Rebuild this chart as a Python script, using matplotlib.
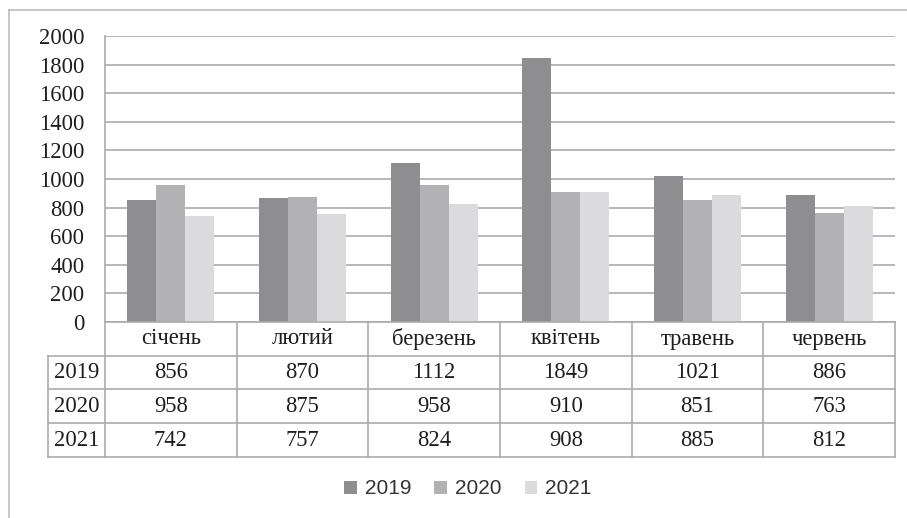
import matplotlib
matplotlib.use("Agg")
import matplotlib.pyplot as plt
from matplotlib.lines import Line2D
from matplotlib.patches import Patch
import numpy as np

months = ["січень", "лютий", "березень", "квітень", "травень", "червень"]
years = ["2019", "2020", "2021"]
v2019 = [856, 870, 1112, 1849, 1021, 886]
v2020 = [958, 875, 958, 910, 851, 763]
v2021 = [742, 757, 824, 908, 885, 812]
series = [v2019, v2020, v2021]
colors = ["#8e8e91", "#b2b2b5", "#dbdbdd"]
yticks = [0, 200, 400, 600, 800, 1000, 1200, 1400, 1600, 1800, 2000]

W, H = 907, 518
fig = plt.figure(figsize=(W / 100, H / 100), dpi=100)
fig.patch.set_facecolor("white")

def fx(px):
    return px / W

def fy(py):
    return 1 - py / H

left, right, top, bottom = 105, 895, 36, 322
ax = fig.add_axes([fx(left), fy(bottom), fx(right) - fx(left), fy(top) - fy(bottom)])

grid_c = "#ababab"
serif = "Liberation Serif"
fs = 16.3
tc = "#1e1e1e"

n = len(months)
x = np.arange(n)
bw = 0.22
for i, (vals, c) in enumerate(zip(series, colors)):
    ax.bar(x + (i - 1) * bw, vals, width=bw, color=c, zorder=3, linewidth=0)

ax.set_xlim(-0.5, n - 0.5)
ax.set_ylim(0, 2000)
ax.set_yticks(yticks)
ax.set_yticklabels([str(t) for t in yticks], fontfamily=serif, fontsize=fs, color=tc)
ax.tick_params(axis="y", length=0, pad=15)
ax.set_xticks([])
for t in yticks:
    ax.axhline(t, color=grid_c, lw=1.2, zorder=1)
for s in ["top", "right", "bottom"]:
    ax.spines[s].set_visible(False)
ax.spines["left"].set_color(grid_c)
ax.spines["left"].set_linewidth(1.2)

# data table
row_tops = [322, 356, 389, 423, 457]
label_left = 48
col_edges = np.linspace(left, right, n + 1)

def hline(y, x0, x1):
    fig.add_artist(Line2D([fx(x0), fx(x1)], [fy(y), fy(y)], color=grid_c, lw=1.2))

def vline(xp, y0, y1):
    fig.add_artist(Line2D([fx(xp), fx(xp)], [fy(y0), fy(y1)], color=grid_c, lw=1.2))

hline(row_tops[0], left, right)
for y in row_tops[1:]:
    hline(y, label_left, right)
for xe in col_edges:
    vline(xe, row_tops[0], row_tops[-1])
vline(label_left, row_tops[1], row_tops[-1])

for j, m in enumerate(months):
    cx = (col_edges[j] + col_edges[j + 1]) / 2
    cy = (row_tops[0] + row_tops[1]) / 2
    fig.text(fx(cx), fy(cy), m, ha="center", va="center", fontfamily=serif, fontsize=fs, color=tc)
for i, (yr, vals) in enumerate(zip(years, series)):
    cy = (row_tops[i + 1] + row_tops[i + 2]) / 2
    fig.text(fx((label_left + left) / 2), fy(cy), yr, ha="center", va="center",
             fontfamily=serif, fontsize=fs, color=tc)
    for j, v in enumerate(vals):
        cx = (col_edges[j] + col_edges[j + 1]) / 2
        fig.text(fx(cx), fy(cy), str(v), ha="center", va="center",
                 fontfamily=serif, fontsize=fs, color=tc)

# legend
handles = [Patch(facecolor=c, edgecolor="none") for c in colors]
fig.legend(handles, years, loc="center", bbox_to_anchor=(fx(468), fy(489)), ncol=3,
           frameon=False, prop={"family": "Liberation Sans", "size": 15},
           handlelength=0.6, handleheight=0.6, handletextpad=0.4, columnspacing=1.1,
           labelcolor="#333333")

# outer frame
fig.add_artist(Line2D([fx(9), 1.0], [fy(10), fy(10)], color="#bdbdbd", lw=1.2))
fig.add_artist(Line2D([fx(9), fx(9)], [fy(10), 0.0], color="#bdbdbd", lw=1.2))

fig.savefig("out.png", dpi=100, facecolor="white")
